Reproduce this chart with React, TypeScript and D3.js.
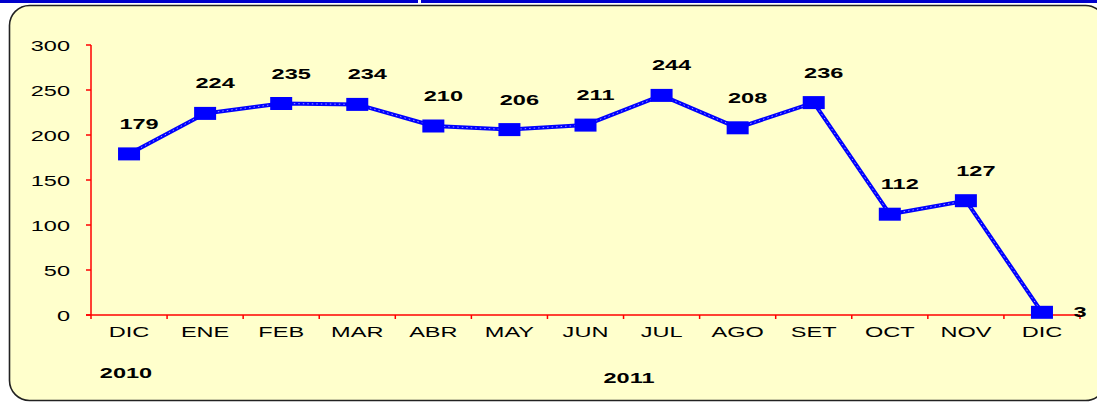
import React from "react";
import * as d3 from "d3";

const categories = ["DIC", "ENE", "FEB", "MAR", "ABR", "MAY", "JUN", "JUL", "AGO", "SET", "OCT", "NOV", "DIC"];
const values = [179, 224, 235, 234, 210, 206, 211, 244, 208, 236, 112, 127, 3];
const yTicks = [0, 50, 100, 150, 200, 250, 300];
const yearLabels = ["2010", "2011"];

const W = 1097;
const H = 402;
const FONT = "'Liberation Sans', Arial, sans-serif";
const SX = 1.57;

export default function App() {
  const x = d3.scaleBand<number>().domain(d3.range(categories.length)).range([91, 1080]).padding(0);
  const y = d3.scaleLinear().domain([0, 300]).range([315, 45]);
  const cx = (i: number) => (x(i) as number) + x.bandwidth() / 2;

  const line = d3
    .line<number>()
    .x((_, i) => cx(i))
    .y((d) => y(d));
  const path = line(values) || "";

  const stretched = (
    key: string | number,
    tx: number,
    ty: number,
    text: string,
    anchor: "start" | "middle" | "end",
    bold: boolean
  ) => (
    <g key={key} transform={`translate(${tx},${ty}) scale(${SX},1)`}>
      <text
        x={0}
        y={0}
        textAnchor={anchor}
        fontFamily={FONT}
        fontSize={15}
        fontWeight={bold ? "bold" : "normal"}
        fill="#000"
      >
        {text}
      </text>
    </g>
  );

  const boundaries = d3.range(categories.length + 1).map((i) => 91 + i * x.bandwidth());

  return (
    <svg
      width={W}
      height={H}
      style={{ position: "absolute", left: 0, top: 0, display: "block", background: "#fff" }}
    >
      {/* top decoration */}
      <rect x={0} y={0} width={W} height={3} fill="#0000CC" />
      <rect x={418} y={0} width={3} height={3} fill="#fff" />
      {/* panel */}
      <rect x={9.5} y={5.5} width={1096} height={395} rx={20} ry={20} fill="#FFFFCC" stroke="#222" strokeWidth={1.6} />

      {/* y axis */}
      <line x1={91} x2={91} y1={y(300)} y2={y(0)} stroke="#FF0000" strokeWidth={1.5} />
      {yTicks.map((t) => (
        <g key={t}>
          <line x1={86} x2={91} y1={y(t)} y2={y(t)} stroke="#FF0000" strokeWidth={1.5} />
          {stretched("yt" + t, 70, y(t) + 5.5, String(t), "end", false)}
        </g>
      ))}

      {/* x axis */}
      <line x1={86} x2={1080} y1={y(0)} y2={y(0)} stroke="#FF0000" strokeWidth={1.5} />
      {boundaries.map((b, i) => (
        <line key={i} x1={b} x2={b} y1={y(0)} y2={y(0) + 4} stroke="#FF0000" strokeWidth={1.5} />
      ))}
      {categories.map((c, i) => stretched("xc" + i, cx(i), 337, c, "middle", false))}

      {stretched("y0", 126, 378, yearLabels[0], "middle", true)}
      {stretched("y1", 629, 383, yearLabels[1], "middle", true)}

      {/* series line */}
      <path d={path} fill="none" stroke="#0000FF" strokeWidth={4} strokeLinejoin="round" />
      <path d={path} fill="none" stroke="#9999FF" strokeWidth={1} strokeDasharray="1.5,3" />

      {values.map((v, i) => (
        <rect key={"m" + i} x={cx(i) - 11} y={y(v) - 6.5} width={22} height={13} fill="#0000FF" />
      ))}

      {values.map((v, i) =>
        i === values.length - 1
          ? stretched("dl" + i, cx(i) + 38, y(v) + 4.5, String(v), "middle", true)
          : stretched("dl" + i, cx(i) + 10, y(v) - 25, String(v), "middle", true)
      )}
    </svg>
  );
}
